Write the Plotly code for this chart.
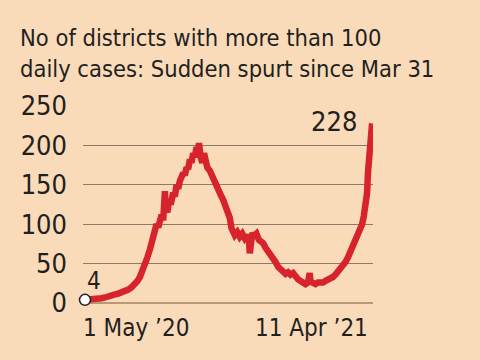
import pandas as pd
import plotly.graph_objects as go

start_date = "2020-05-01"
day_offsets = [0, 4, 8, 12, 16, 20, 24, 28, 32, 36, 40, 44, 48, 52, 56, 60, 63, 66, 69, 72,
               75, 78, 81, 84, 86, 88, 90, 92, 94, 96, 97, 99, 101, 103, 106, 108, 110, 112,
               114, 116, 118, 120, 122, 124, 126, 128, 130, 132, 134, 136, 137, 139, 141, 143,
               145, 147, 150, 153, 156, 159, 162, 164, 166, 169, 172, 174, 176, 178, 180, 183,
               186, 189, 192, 195, 197, 198, 199, 201, 203, 206, 209, 212, 214, 217, 220, 223,
               226, 229, 232, 235, 238, 241, 244, 247, 250, 253, 256, 259, 262, 265, 268, 270,
               271, 274, 277, 280, 283, 286, 289, 292, 295, 298, 301, 304, 307, 310, 313, 316,
               319, 322, 325, 328, 331, 333, 335, 337, 339, 340, 342, 344, 345]
districts = [4, 4, 5, 5, 6, 6, 7, 9, 10, 11, 12, 13, 15, 17, 20, 24, 28, 33, 40, 50,
             58, 68, 80, 92, 100, 96, 108, 112, 105, 142, 120, 115, 130, 125, 140, 135, 150, 145,
             155, 160, 165, 162, 172, 170, 182, 178, 190, 185, 198, 192, 203, 185, 178, 190,
             176, 172, 168, 160, 155, 147, 140, 135, 131, 122, 112, 108, 95, 89, 86, 90,
             84, 88, 82, 86, 80, 63, 82, 89, 85, 88, 80, 78, 76, 70, 66, 62,
             59, 52, 46, 42, 38, 37, 39, 36, 38, 33, 30, 28, 26, 24, 26, 38,
             27, 25, 24, 26, 25, 26, 28, 29, 31, 33, 36, 40, 43, 46, 52, 58,
             65, 72, 78, 84, 93, 100, 110, 122, 140, 165, 190, 215, 228]
y_ticks = [0, 50, 100, 150, 200, 250]
x_labels = ["1 May \u201920", "11 Apr \u201921"]
title_text = "No of districts with more than 100<br>daily cases: Sudden spurt since Mar 31"

start = pd.Timestamp(start_date)
dates = [start + pd.Timedelta(days=d) for d in day_offsets]

FONT = "DejaVu Sans Condensed, Liberation Sans Narrow, sans-serif"
BG = "#f9dbba"
RED = "#d7232b"
INK = "#231f20"

fig = go.Figure()
fig.add_trace(go.Scatter(x=dates, y=districts, mode="lines",
                         line=dict(color=RED, width=6.5), hoverinfo="skip"))
fig.add_trace(go.Scatter(x=[dates[0]], y=[districts[0]], mode="markers",
                         marker=dict(size=11, color="white", line=dict(color=INK, width=1.5)),
                         cliponaxis=False, hoverinfo="skip"))

x0 = start - pd.Timedelta(hours=58)
x1 = dates[-1] + pd.Timedelta(hours=26)

fig.update_layout(
    width=480, height=360,
    margin=dict(l=83, r=107, t=106, b=57),
    paper_bgcolor=BG, plot_bgcolor=BG,
    showlegend=False,
    font=dict(family=FONT, color=INK),
    title=dict(text=title_text, x=20 / 480, xanchor="left", xref="container",
               y=1 - 46 / 360, yanchor="top", yref="container",
               font=dict(family=FONT, size=23.5, color=INK)),
    xaxis=dict(range=[x0, x1], showgrid=False, showticklabels=False, zeroline=False,
               showline=False, ticks=""),
    yaxis=dict(range=[0, 250], tickvals=y_ticks, showgrid=True, gridcolor="#8c7a68",
               gridwidth=1, zeroline=True, zerolinecolor="#b89a78", zerolinewidth=1.5,
               showline=False, ticks="", ticklabelstandoff=15,
               tickfont=dict(family=FONT, size=27, color=INK)),
)

fig.add_annotation(x=dates[0], y=0, xref="x", yref="y", text=x_labels[0],
                   xanchor="left", yanchor="top", yshift=-9, xshift=-4, showarrow=False,
                   font=dict(family=FONT, size=24, color=INK))
fig.add_annotation(x=dates[-1], y=0, xref="x", yref="y", text=x_labels[1],
                   xanchor="right", yanchor="top", yshift=-9, xshift=-2, showarrow=False,
                   font=dict(family=FONT, size=24, color=INK))
fig.add_annotation(x=dates[0], y=districts[0], xref="x", yref="y", text=str(districts[0]),
                   xanchor="left", yanchor="bottom", yshift=3, xshift=0, showarrow=False,
                   font=dict(family=FONT, size=24, color=INK))
fig.add_annotation(x=dates[-1], y=districts[-1], xref="x", yref="y", text=str(districts[-1]),
                   xanchor="right", yanchor="middle", yshift=2, xshift=-13, showarrow=False,
                   font=dict(family=FONT, size=27, color=INK))

fig.write_html("out.html")
